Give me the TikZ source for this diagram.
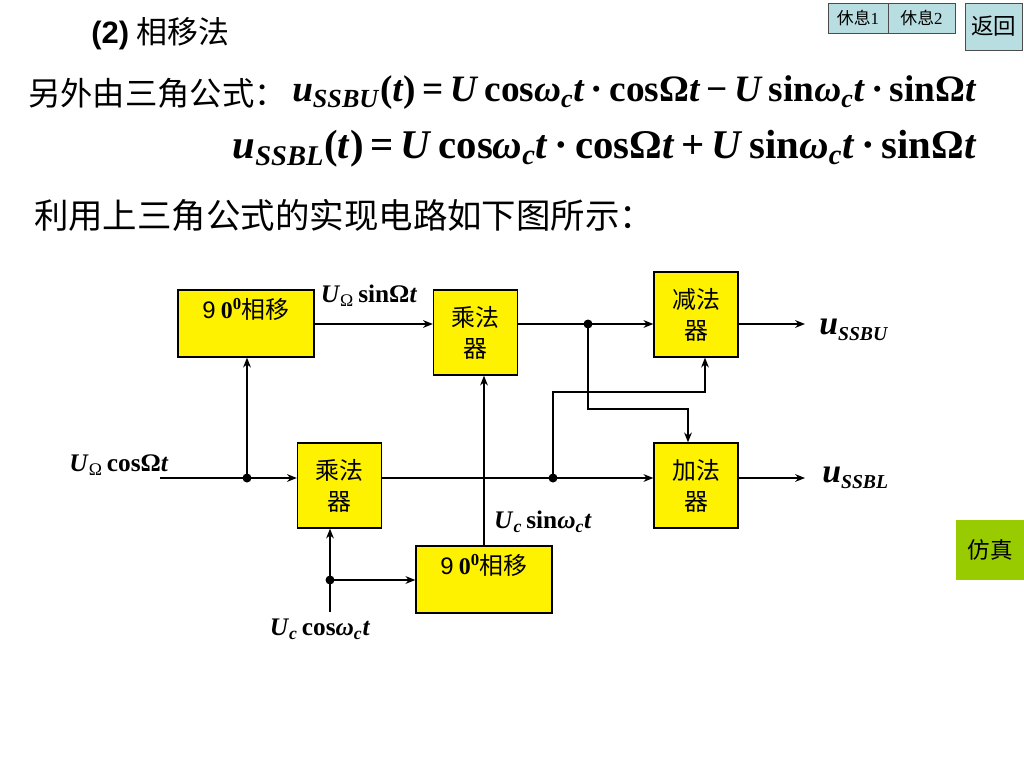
\documentclass[tikz,border=0pt]{standalone}
\usepackage{fontspec}
\setmainfont{Liberation Serif}
\newfontfamily\cjk{Noto Sans CJK SC}
\newfontfamily\arial{Liberation Sans}
\usetikzlibrary{arrows.meta}
\definecolor{btn}{RGB}{185,222,226}
\definecolor{sim}{RGB}{153,204,0}
\newcommand\sbs[1]{\textsubscript{#1}}
\newcommand\osub[1]{\raisebox{-0.4ex}{\fontsize{14}{15}\selectfont\textit{#1}}}
\begin{document}
\begin{tikzpicture}[x=0.025cm,y=-0.025cm,>={Stealth[length=7pt,width=5.5pt]},line width=0.9pt,
  blk/.style={draw,fill=yellow,inner sep=0pt,align=center,font=\cjk\fontsize{17}{22}\selectfont},
  ph/.style={blk,minimum width=3.4cm,minimum height=1.675cm},
  op/.style={blk,minimum width=2.1cm,minimum height=2.125cm},
  sig/.style={font=\bfseries\fontsize{18}{20}\selectfont},
  outlbl/.style={anchor=west,font=\bfseries\fontsize{24}{26}\selectfont},
  eq/.style={anchor=west,inner sep=0pt,font=\bfseries\fontsize{26.5}{30}\selectfont},
  txt/.style={anchor=west,inner sep=1pt,font=\cjk\fontsize{24.5}{28}\selectfont},
  btn/.style={draw=black!70,fill=btn,line width=0.6pt,inner sep=0pt,font=\cjk\fontsize{12}{14}\selectfont}]
\useasboundingbox(0,0)rectangle(1024,768);
\node[btn,minimum width=1.5cm,minimum height=0.75cm](r1)at(858,18){休息{\rmfamily 1}};
\node[btn,minimum width=1.675cm,minimum height=0.75cm](r2)at(921.5,18){休息{\rmfamily 2}};
\node[btn,minimum width=1.425cm,minimum height=1.175cm,font=\cjk\fontsize{16}{18}\selectfont](back)at(993.5,26.5){返回};
\node[fill=sim,minimum width=1.7cm,minimum height=1.5cm,font=\cjk\fontsize{16}{18}\selectfont](simu)at(990,550){仿真};
\node[anchor=west,font=\fontsize{22}{26}\selectfont](title)at(86,34){{\arial\bfseries (2)} {\cjk 相移法}};
\node[txt,font=\cjk\fontsize{23}{28}\selectfont](t1)at(26,93){另外由三角公式：};
\node[eq](f1)at([xshift=2pt]t1.east){\textit{u}\sbs{\textit{SSBU}}(\textit{t})\,=\,\textit{U}\,cos\textit{ω}\sbs{\textit{c}}\textit{t}\,·\,cosΩ\textit{t}\,−\,\textit{U}\,sin\textit{ω}\sbs{\textit{c}}\textit{t}\,·\,sinΩ\textit{t}};
\node[eq,font=\bfseries\fontsize{29}{32}\selectfont](f2)at(232,149){\textit{u}\sbs{\textit{SSBL}}(\textit{t})\,=\,\textit{U}\,cos\textit{ω}\sbs{\textit{c}}\textit{t}\,·\,cosΩ\textit{t}\,+\,\textit{U}\,sin\textit{ω}\sbs{\textit{c}}\textit{t}\,·\,sinΩ\textit{t}};
\node[txt](t2)at(32,215){利用上三角公式的实现电路如下图所示：};
\node[ph](ph1)at(246,323.5){{\arial 9} {\rmfamily\bfseries 0\textsuperscript{0}}相移\\\mbox{}};
\node[op](m1)at(475.5,332.5){乘法\\器};
\node[op](sub)at(696,314.5){减法\\器};
\node[op](m2)at(339.5,485.5){乘法\\器};
\node[op](add)at(696,485.5){加法\\器};
\node[ph](ph2)at(484,579.5){{\arial 9} {\rmfamily\bfseries 0\textsuperscript{0}}相移\\\mbox{}};
\coordinate(j1)at(588,324);
\coordinate(j2)at(247,478);
\coordinate(j3)at(553,478);
\coordinate(j4)at(330,580);
\coordinate(in1)at(160,478);
\coordinate(in2)at(330,612);
\coordinate(o1)at(805,324);
\coordinate(o2)at(805,478);
\coordinate(k1)at(705,392);
\coordinate(k2)at(688,409);
\draw[->](ph1.east|-j1)--(j1-|m1.west);
\draw(m1.east|-j1)--(j1);
\draw[->](j1)--(j1-|sub.west);
\draw[->](sub.east|-j1)--(o1);
\draw(in1)--(j2);
\draw[->](j2)--(j2-|m2.west);
\draw[->](j2)--(j2|-ph1.south);
\draw(m2.east|-j3)--(j3);
\draw[->](j3)--(j3-|add.west);
\draw[->](add.east|-j3)--(o2);
\draw[->](j3)|-(k1)--(k1|-sub.south);
\draw[->](j1)|-(k2)--(k2|-add.north);
\draw[->](ph2.north)--(ph2.north|-m1.south);
\draw(in2)--(j4);
\draw[->](j4)--(j4|-m2.south);
\draw[->](j4)--(j4-|ph2.west);
\foreach \j in {j1,j2,j3,j4}\fill(\j)circle(3.2pt);
\node[sig](s1)at(369,296){\textit{U}\sbs{\mdseries Ω}\,sinΩ\textit{t}};
\node[sig](s2)at(119,465){\textit{U}\sbs{\mdseries Ω}\,cosΩ\textit{t}};
\node[sig](s3)at(543,522){\textit{U}\sbs{\textit{c}}\,sin\textit{ω}\sbs{\textit{c}}\textit{t}};
\node[sig](s4)at(320,629){\textit{U}\sbs{\textit{c}}\,cos\textit{ω}\sbs{\textit{c}}\textit{t}};
\node[outlbl](uu)at(814,330){\textit{u}\osub{SSBU}};
\node[outlbl](ul)at(817,478){\textit{u}\osub{SSBL}};
\end{tikzpicture}
\end{document}
